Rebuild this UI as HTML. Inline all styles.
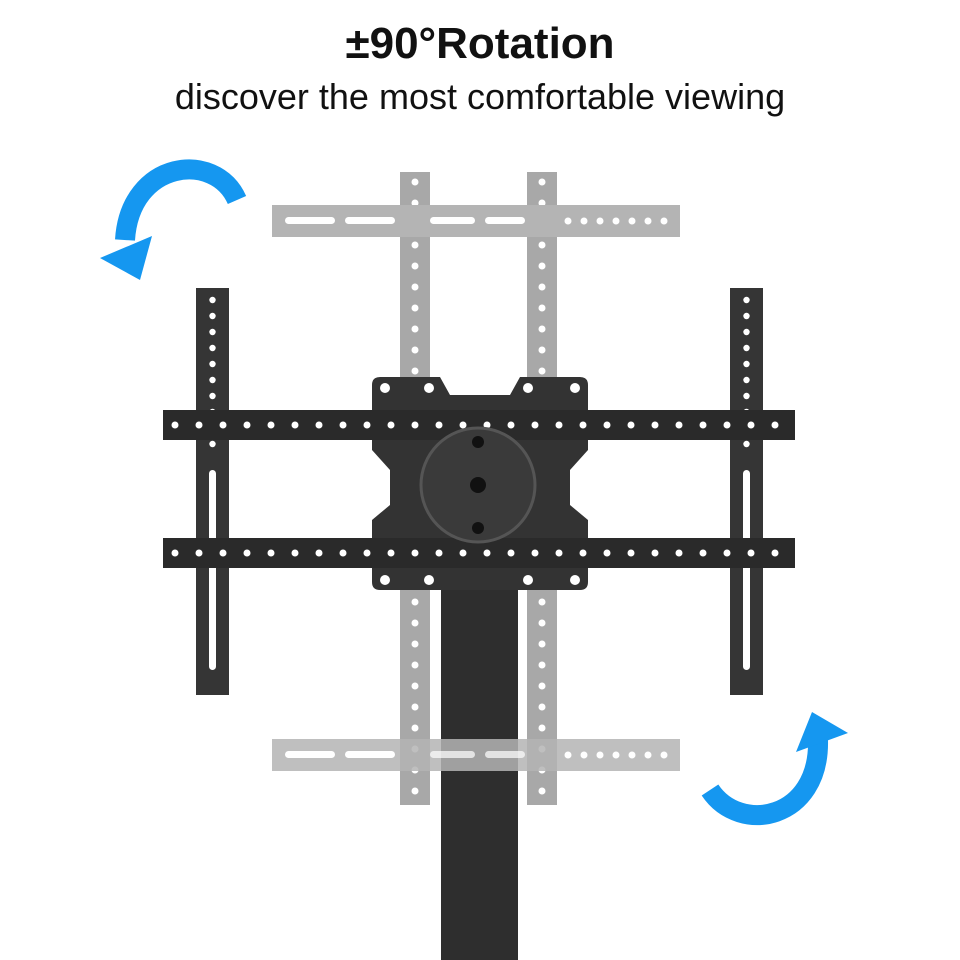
<!DOCTYPE html>
<html><head><meta charset="utf-8"><style>
html,body{margin:0;padding:0;background:#fff;}
.t{position:absolute;left:0;width:960px;text-align:center;font-family:"Liberation Sans",sans-serif;color:#111;}
</style></head><body>
<div style="position:relative;width:960px;height:960px;overflow:hidden;">
<div class="t" style="top:19px;font-size:44px;font-weight:bold;">±90°Rotation</div>
<div class="t" style="top:76px;font-size:36px;">discover the most comfortable viewing</div>
<svg width="960" height="960" style="position:absolute;left:0;top:0">
<defs>
<pattern id="gv1" x="400" y="172" width="30" height="21" patternUnits="userSpaceOnUse"><circle cx="15" cy="10" r="3.5" fill="#fff"/></pattern>
<pattern id="gv2" x="527" y="172" width="30" height="21" patternUnits="userSpaceOnUse"><circle cx="15" cy="10" r="3.5" fill="#fff"/></pattern>
<pattern id="gh1" x="560" y="205" width="16" height="32" patternUnits="userSpaceOnUse"><circle cx="8" cy="16" r="3.5" fill="#fff"/></pattern>
<pattern id="gh2" x="560" y="739" width="16" height="32" patternUnits="userSpaceOnUse"><circle cx="8" cy="16" r="3.5" fill="#fff"/></pattern>
<pattern id="bh1" x="163" y="410" width="24" height="30" patternUnits="userSpaceOnUse"><circle cx="12" cy="15" r="3.5" fill="#fff"/></pattern>
<pattern id="bh2" x="163" y="538" width="24" height="30" patternUnits="userSpaceOnUse"><circle cx="12" cy="15" r="3.5" fill="#fff"/></pattern>
<pattern id="bv1" x="196" y="292" width="33" height="16" patternUnits="userSpaceOnUse"><circle cx="16.5" cy="8" r="3.2" fill="#fff"/></pattern>
<pattern id="bv2" x="730" y="292" width="33" height="16" patternUnits="userSpaceOnUse"><circle cx="16.5" cy="8" r="3.2" fill="#fff"/></pattern>
</defs>
<!-- gray structure -->
<rect x="400" y="172" width="30" height="633" fill="#a8a8a8"/>
<rect x="527" y="172" width="30" height="633" fill="#a8a8a8"/>
<rect x="400" y="172" width="30" height="633" fill="url(#gv1)"/>
<rect x="527" y="172" width="30" height="633" fill="url(#gv2)"/>
<rect x="272" y="205" width="408" height="32" fill="#b4b4b4"/>
<rect x="285" y="217" width="50" height="7" rx="3.5" fill="#fff"/>
<rect x="345" y="217" width="50" height="7" rx="3.5" fill="#fff"/>
<rect x="430" y="217" width="45" height="7" rx="3.5" fill="#fff"/>
<rect x="485" y="217" width="40" height="7" rx="3.5" fill="#fff"/>
<rect x="560" y="205" width="115" height="32" fill="url(#gh1)"/>
<!-- pole -->
<rect x="441" y="575" width="77" height="385" fill="#2e2e2e"/>
<!-- bottom gray bar semi over pole -->
<rect x="272" y="739" width="408" height="32" fill="#b4b4b4" fill-opacity="0.85"/>
<rect x="285" y="751" width="50" height="7" rx="3.5" fill="#fff"/>
<rect x="345" y="751" width="50" height="7" rx="3.5" fill="#fff"/>
<rect x="430" y="751" width="45" height="7" rx="3.5" fill="#fff" fill-opacity="0.7"/>
<rect x="485" y="751" width="40" height="7" rx="3.5" fill="#fff" fill-opacity="0.7"/>
<rect x="560" y="739" width="115" height="32" fill="url(#gh2)"/>
<!-- black verticals -->
<rect x="196" y="288" width="33" height="407" fill="#353535"/>
<rect x="730" y="288" width="33" height="407" fill="#353535"/>
<rect x="196" y="292" width="33" height="160" fill="url(#bv1)"/>
<rect x="730" y="292" width="33" height="160" fill="url(#bv2)"/>
<rect x="209" y="470" width="7" height="200" rx="3.5" fill="#fff"/>
<rect x="743" y="470" width="7" height="200" rx="3.5" fill="#fff"/>
<!-- plate -->
<path d="M372 385 Q372 377 380 377 L440 377 L450 395 L510 395 L520 377 L580 377 Q588 377 588 385 L588 450 L570 470 L570 505 L588 520 L588 582 Q588 590 580 590 L380 590 Q372 590 372 582 L372 520 L390 505 L390 470 L372 450 Z" fill="#333"/>
<!-- rails -->
<rect x="163" y="410" width="632" height="30" fill="#2a2a2a"/>
<rect x="163" y="538" width="632" height="30" fill="#2a2a2a"/>
<rect x="163" y="410" width="632" height="30" fill="url(#bh1)"/>
<rect x="163" y="538" width="632" height="30" fill="url(#bh2)"/>
<circle cx="478" cy="485" r="57" fill="#3a3a3a" stroke="#555" stroke-width="3"/>
<circle cx="478" cy="485" r="8" fill="#111"/>
<circle cx="478" cy="442" r="6" fill="#111"/>
<circle cx="478" cy="528" r="6" fill="#111"/>
<circle cx="385" cy="388" r="5" fill="#fff"/>
<circle cx="429" cy="388" r="5" fill="#fff"/>
<circle cx="528" cy="388" r="5" fill="#fff"/>
<circle cx="575" cy="388" r="5" fill="#fff"/>
<circle cx="385" cy="580" r="5" fill="#fff"/>
<circle cx="429" cy="580" r="5" fill="#fff"/>
<circle cx="528" cy="580" r="5" fill="#fff"/>
<circle cx="575" cy="580" r="5" fill="#fff"/>
<!-- blue arrows -->
<path d="M237 200 C215 150 130 160 125 240" fill="none" stroke="#1597f0" stroke-width="20"/>
<polygon points="100,258 152,236 140,280" fill="#1597f0"/>
<path d="M710 790 C740 835 820 820 818 740" fill="none" stroke="#1597f0" stroke-width="20"/>
<polygon points="848,733 796,752 812,712" fill="#1597f0"/>
</svg>
</div>
</body></html>
